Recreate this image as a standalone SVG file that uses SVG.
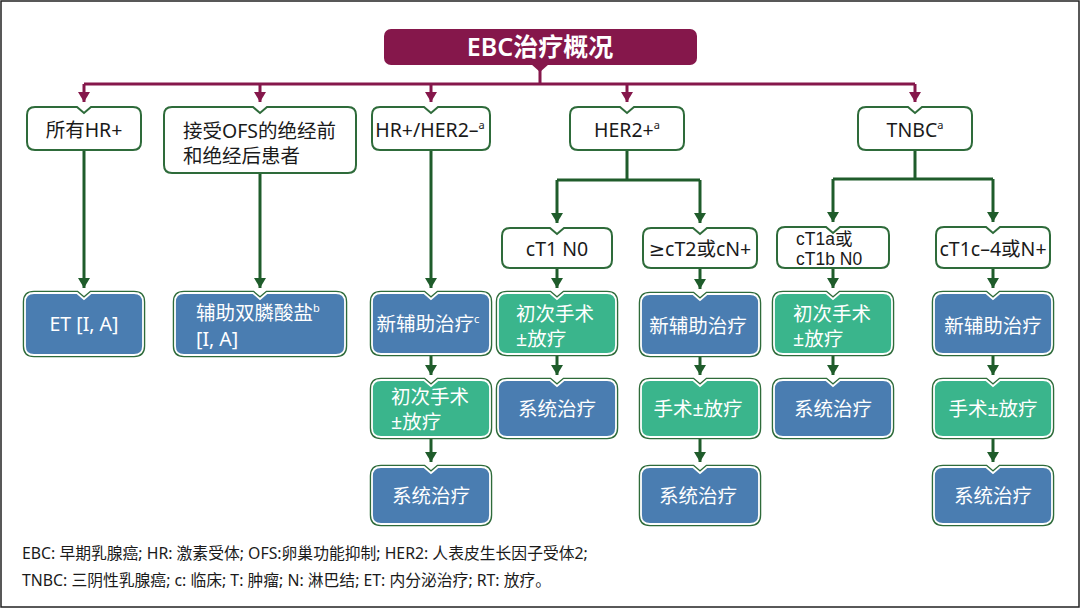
<svg xmlns="http://www.w3.org/2000/svg" width="1080" height="608" viewBox="0 0 1080 608">
<defs>
<style>
text{font-family:"Noto Sans","Noto Sans CJK SC",sans-serif;}
.t{font-size:19.5px;fill:#1a1a1a;}
.w{font-size:19.5px;fill:#ffffff;}
.c{text-anchor:middle;}
.sup{font-size:11px;}
.tl{font-family:"Liberation Sans","Noto Sans CJK SC",sans-serif;font-size:17.5px;fill:#1a1a1a;}
.wb{fill:#ffffff;stroke:#2E6B3A;stroke-width:2;}
.ob{fill:none;stroke:#2E6B3A;stroke-width:4.5;}
.bl{fill:#4A7DB1;stroke:#ffffff;stroke-width:1.8;}
.gr{fill:#3AB58C;stroke:#ffffff;stroke-width:1.8;}
.lg{fill:none;stroke:#1F5C2B;stroke-width:3;}
.lr{fill:none;stroke:#85174B;stroke-width:3;}
.fn{font-size:15.8px;fill:#1a1a1a;}
</style>
<marker id="ag" markerUnits="userSpaceOnUse" viewBox="0 0 10 12" refX="10" refY="6" markerWidth="10" markerHeight="12" orient="auto"><path d="M0,0 L10,6 L0,12 Z" fill="#1F5C2B"/></marker>
<marker id="ar" markerUnits="userSpaceOnUse" viewBox="0 0 10 12" refX="10" refY="6" markerWidth="10" markerHeight="12" orient="auto"><path d="M0,0 L10,6 L0,12 Z" fill="#85174B"/></marker>
</defs>
<rect x="1" y="1" width="1078" height="606" fill="#ffffff" stroke="#222" stroke-width="1.5"/>

<g id="connectors">
<path class="lr" d="M540,65 V84 M84,84 H915"/>
<path class="lr" d="M84,84 V102" marker-end="url(#ar)"/>
<path class="lr" d="M260,84 V102" marker-end="url(#ar)"/>
<path class="lr" d="M431,84 V102" marker-end="url(#ar)"/>
<path class="lr" d="M627,84 V102" marker-end="url(#ar)"/>
<path class="lr" d="M915,84 V102" marker-end="url(#ar)"/>
<path class="lg" d="M84,150 V288" marker-end="url(#ag)"/>
<path class="lg" d="M260,173 V288" marker-end="url(#ag)"/>
<path class="lg" d="M431,150 V288" marker-end="url(#ag)"/>
<path class="lg" d="M431,354 V375" marker-end="url(#ag)"/>
<path class="lg" d="M431,437 V462" marker-end="url(#ag)"/>
<path class="lg" d="M627,150 V180 M557,180 H700"/>
<path class="lg" d="M557,180 V223" marker-end="url(#ag)"/>
<path class="lg" d="M700,180 V223" marker-end="url(#ag)"/>
<path class="lg" d="M557,268 V288" marker-end="url(#ag)"/>
<path class="lg" d="M557,354 V375" marker-end="url(#ag)"/>
<path class="lg" d="M700,268 V289" marker-end="url(#ag)"/>
<path class="lg" d="M700,355 V375" marker-end="url(#ag)"/>
<path class="lg" d="M700,437 V462" marker-end="url(#ag)"/>
<path class="lg" d="M915,150 V179 M833,179 H993"/>
<path class="lg" d="M833,179 V222" marker-end="url(#ag)"/>
<path class="lg" d="M993,179 V222" marker-end="url(#ag)"/>
<path class="lg" d="M833,268 V288" marker-end="url(#ag)"/>
<path class="lg" d="M833,354 V375" marker-end="url(#ag)"/>
<path class="lg" d="M993,268 V288" marker-end="url(#ag)"/>
<path class="lg" d="M993,354 V375" marker-end="url(#ag)"/>
<path class="lg" d="M993,437 V462" marker-end="url(#ag)"/>
</g>

<g id="title">
<rect x="384" y="29" width="313" height="36" rx="7" fill="#85174B"/>
<path d="M531,64 L540,72 L549,64 Z" fill="#85174B"/>
<text x="540" y="56" class="c" style="font-size:25px;font-weight:600;fill:#fff">EBC治疗概况</text>
</g>

<g id="n-allhr">
<path class="wb" d="M35,107 H77 L84,113 L91,107 H133 Q141,107 141,115 V142 Q141,150 133,150 H35 Q27,150 27,142 V115 Q27,107 35,107 Z"/>
<text x="84" y="137" class="t c">所有HR+</text>
</g>
<g id="n-ofs">
<path class="wb" d="M172,107 H253 L260,113 L267,107 H348 Q356,107 356,115 V165 Q356,173 348,173 H172 Q164,173 164,165 V115 Q164,107 172,107 Z"/>
<text x="183" y="138" class="t">接受OFS的绝经前</text>
<text x="183" y="163" class="t">和绝经后患者</text>
</g>
<g id="n-hrher2neg">
<path class="wb" d="M380,107 H424 L431,113 L438,107 H482 Q490,107 490,115 V142 Q490,150 482,150 H380 Q372,150 372,142 V115 Q372,107 380,107 Z"/>
<text x="430" y="137" class="t c">HR+/HER2–<tspan class="sup" dy="-8">a</tspan></text>
</g>
<g id="n-her2pos">
<path class="wb" d="M578,107 H620 L627,113 L634,107 H676 Q684,107 684,115 V142 Q684,150 676,150 H578 Q570,150 570,142 V115 Q570,107 578,107 Z"/>
<text x="627" y="137" class="t c">HER2+<tspan class="sup" dy="-8">a</tspan></text>
</g>
<g id="n-tnbc">
<path class="wb" d="M866,107 H908 L915,113 L922,107 H964 Q972,107 972,115 V142 Q972,150 964,150 H866 Q858,150 858,142 V115 Q858,107 866,107 Z"/>
<text x="915" y="137" class="t c">TNBC<tspan class="sup" dy="-8">a</tspan></text>
</g>

<g id="n-ct1n0">
<path class="wb" d="M510,228 H550 L557,234 L564,228 H604 Q612,228 612,236 V260 Q612,268 604,268 H510 Q502,268 502,260 V236 Q502,228 510,228 Z"/>
<text x="557" y="256" class="t c">cT1 N0</text>
</g>
<g id="n-ct2">
<path class="wb" d="M651,228 H693 L700,234 L707,228 H749 Q757,228 757,236 V260 Q757,268 749,268 H651 Q643,268 643,260 V236 Q643,228 651,228 Z"/>
<text x="700" y="256" class="t c"><tspan style="font-family:'DejaVu Sans',sans-serif">≥</tspan>cT2或cN+</text>
</g>
<g id="n-ct1ab">
<path class="wb" d="M785,227 H826 L833,233 L840,227 H881 Q889,227 889,235 V260 Q889,268 881,268 H785 Q777,268 777,260 V235 Q777,227 785,227 Z"/>
<text x="796" y="245" class="tl">cT1a或</text>
<text x="796" y="265" class="tl">cT1b N0</text>
</g>
<g id="n-ct1c4">
<path class="wb" d="M944,227 H986 L993,233 L1000,227 H1042 Q1050,227 1050,235 V260 Q1050,268 1042,268 H944 Q936,268 936,260 V235 Q936,227 944,227 Z"/>
<text x="993" y="256" class="t c">cT1c–4或N+</text>
</g>

<g id="n-et">
<path class="ob" d="M34,293 H77 L84,299 L91,293 H134 Q143,293 143,302 V346 Q143,355 134,355 H34 Q25,355 25,346 V302 Q25,293 34,293 Z"/>
<path class="bl" d="M34,293 H77 L84,299 L91,293 H134 Q143,293 143,302 V346 Q143,355 134,355 H34 Q25,355 25,346 V302 Q25,293 34,293 Z"/>
<text x="84" y="331" class="w c">ET [I, A]</text>
</g>
<g id="n-bis">
<path class="ob" d="M184,293 H253 L260,299 L267,293 H336 Q345,293 345,302 V346 Q345,355 336,355 H184 Q175,355 175,346 V302 Q175,293 184,293 Z"/>
<path class="bl" d="M184,293 H253 L260,299 L267,293 H336 Q345,293 345,302 V346 Q345,355 336,355 H184 Q175,355 175,346 V302 Q175,293 184,293 Z"/>
<text x="196" y="320" class="w">辅助双膦酸盐<tspan class="sup" dy="-8">b</tspan></text>
<text x="196" y="346" class="w">[I, A]</text>
</g>
<g id="n-neo1">
<path class="ob" d="M381,293 H424 L431,299 L438,293 H481 Q490,293 490,302 V345 Q490,354 481,354 H381 Q372,354 372,345 V302 Q372,293 381,293 Z"/>
<path class="bl" d="M381,293 H424 L431,299 L438,293 H481 Q490,293 490,302 V345 Q490,354 481,354 H381 Q372,354 372,345 V302 Q372,293 381,293 Z"/>
<text x="428" y="331" class="w c">新辅助治疗<tspan class="sup" dy="-8">c</tspan></text>
</g>
<g id="n-surg1">
<path class="ob" d="M507,293 H550 L557,299 L564,293 H607 Q616,293 616,302 V345 Q616,354 607,354 H507 Q498,354 498,345 V302 Q498,293 507,293 Z"/>
<path class="gr" d="M507,293 H550 L557,299 L564,293 H607 Q616,293 616,302 V345 Q616,354 607,354 H507 Q498,354 498,345 V302 Q498,293 507,293 Z"/>
<text x="516" y="321" class="w">初次手术</text>
<text x="516" y="346" class="w">±放疗</text>
</g>
<g id="n-neo2">
<path class="ob" d="M650,294 H693 L700,300 L707,294 H750 Q759,294 759,303 V346 Q759,355 750,355 H650 Q641,355 641,346 V303 Q641,294 650,294 Z"/>
<path class="bl" d="M650,294 H693 L700,300 L707,294 H750 Q759,294 759,303 V346 Q759,355 750,355 H650 Q641,355 641,346 V303 Q641,294 650,294 Z"/>
<text x="698" y="333" class="w c">新辅助治疗</text>
</g>
<g id="n-surg2">
<path class="ob" d="M783,293 H826 L833,299 L840,293 H883 Q892,293 892,302 V345 Q892,354 883,354 H783 Q774,354 774,345 V302 Q774,293 783,293 Z"/>
<path class="gr" d="M783,293 H826 L833,299 L840,293 H883 Q892,293 892,302 V345 Q892,354 883,354 H783 Q774,354 774,345 V302 Q774,293 783,293 Z"/>
<text x="793" y="321" class="w">初次手术</text>
<text x="793" y="346" class="w">±放疗</text>
</g>
<g id="n-neo3">
<path class="ob" d="M943,293 H986 L993,299 L1000,293 H1043 Q1052,293 1052,302 V345 Q1052,354 1043,354 H943 Q934,354 934,345 V302 Q934,293 943,293 Z"/>
<path class="bl" d="M943,293 H986 L993,299 L1000,293 H1043 Q1052,293 1052,302 V345 Q1052,354 1043,354 H943 Q934,354 934,345 V302 Q934,293 943,293 Z"/>
<text x="993" y="333" class="w c">新辅助治疗</text>
</g>

<g id="n-surg3">
<path class="ob" d="M381,380 H424 L431,386 L438,380 H481 Q490,380 490,389 V428 Q490,437 481,437 H381 Q372,437 372,428 V389 Q372,380 381,380 Z"/>
<path class="gr" d="M381,380 H424 L431,386 L438,380 H481 Q490,380 490,389 V428 Q490,437 481,437 H381 Q372,437 372,428 V389 Q372,380 381,380 Z"/>
<text x="391" y="404" class="w">初次手术</text>
<text x="391" y="429" class="w">±放疗</text>
</g>
<g id="n-sys1">
<path class="ob" d="M507,380 H550 L557,386 L564,380 H607 Q616,380 616,389 V428 Q616,437 607,437 H507 Q498,437 498,428 V389 Q498,380 507,380 Z"/>
<path class="bl" d="M507,380 H550 L557,386 L564,380 H607 Q616,380 616,389 V428 Q616,437 607,437 H507 Q498,437 498,428 V389 Q498,380 507,380 Z"/>
<text x="557" y="416" class="w c">系统治疗</text>
</g>
<g id="n-surg4">
<path class="ob" d="M650,380 H693 L700,386 L707,380 H750 Q759,380 759,389 V428 Q759,437 750,437 H650 Q641,437 641,428 V389 Q641,380 650,380 Z"/>
<path class="gr" d="M650,380 H693 L700,386 L707,380 H750 Q759,380 759,389 V428 Q759,437 750,437 H650 Q641,437 641,428 V389 Q641,380 650,380 Z"/>
<text x="698" y="416" class="w c">手术±放疗</text>
</g>
<g id="n-sys2">
<path class="ob" d="M783,380 H826 L833,386 L840,380 H883 Q892,380 892,389 V428 Q892,437 883,437 H783 Q774,437 774,428 V389 Q774,380 783,380 Z"/>
<path class="bl" d="M783,380 H826 L833,386 L840,380 H883 Q892,380 892,389 V428 Q892,437 883,437 H783 Q774,437 774,428 V389 Q774,380 783,380 Z"/>
<text x="833" y="416" class="w c">系统治疗</text>
</g>
<g id="n-surg5">
<path class="ob" d="M943,380 H986 L993,386 L1000,380 H1043 Q1052,380 1052,389 V428 Q1052,437 1043,437 H943 Q934,437 934,428 V389 Q934,380 943,380 Z"/>
<path class="gr" d="M943,380 H986 L993,386 L1000,380 H1043 Q1052,380 1052,389 V428 Q1052,437 1043,437 H943 Q934,437 934,428 V389 Q934,380 943,380 Z"/>
<text x="993" y="416" class="w c">手术±放疗</text>
</g>

<g id="n-sys3">
<path class="ob" d="M381,467 H424 L431,473 L438,467 H481 Q490,467 490,476 V515 Q490,524 481,524 H381 Q372,524 372,515 V476 Q372,467 381,467 Z"/>
<path class="bl" d="M381,467 H424 L431,473 L438,467 H481 Q490,467 490,476 V515 Q490,524 481,524 H381 Q372,524 372,515 V476 Q372,467 381,467 Z"/>
<text x="431" y="503" class="w c">系统治疗</text>
</g>
<g id="n-sys4">
<path class="ob" d="M650,467 H693 L700,473 L707,467 H750 Q759,467 759,476 V515 Q759,524 750,524 H650 Q641,524 641,515 V476 Q641,467 650,467 Z"/>
<path class="bl" d="M650,467 H693 L700,473 L707,467 H750 Q759,467 759,476 V515 Q759,524 750,524 H650 Q641,524 641,515 V476 Q641,467 650,467 Z"/>
<text x="698" y="503" class="w c">系统治疗</text>
</g>
<g id="n-sys5">
<path class="ob" d="M943,467 H986 L993,473 L1000,467 H1043 Q1052,467 1052,476 V515 Q1052,524 1043,524 H943 Q934,524 934,515 V476 Q934,467 943,467 Z"/>
<path class="bl" d="M943,467 H986 L993,473 L1000,467 H1043 Q1052,467 1052,476 V515 Q1052,524 1043,524 H943 Q934,524 934,515 V476 Q934,467 943,467 Z"/>
<text x="993" y="503" class="w c">系统治疗</text>
</g>

<g id="footnote">
<text x="22" y="559" class="fn">EBC: 早期乳腺癌; HR: 激素受体; OFS:卵巢功能抑制; HER2: 人表皮生长因子受体2;</text>
<text x="22" y="586" class="fn">TNBC: 三阴性乳腺癌; c: 临床; T: 肿瘤; N: 淋巴结; ET: 内分泌治疗; RT: 放疗。</text>
</g>
</svg>
